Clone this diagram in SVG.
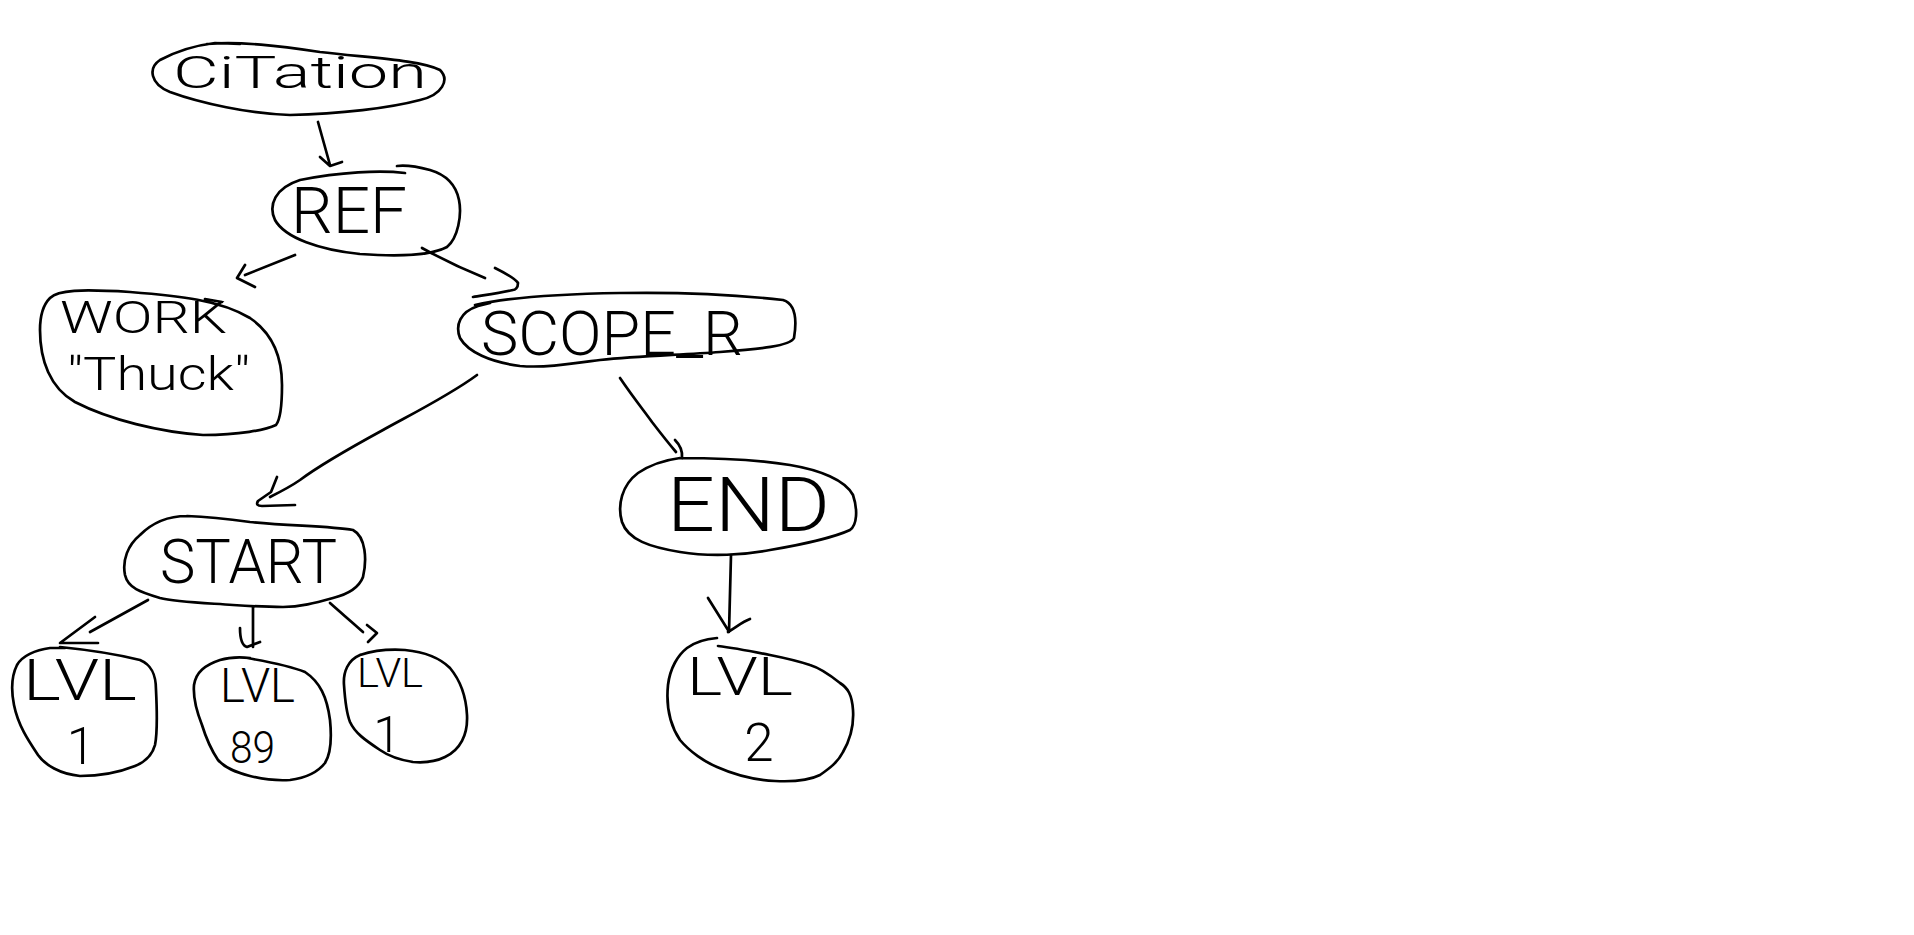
<svg xmlns="http://www.w3.org/2000/svg" width="1914" height="935" viewBox="0 0 1914 935">
<style>
.s{fill:none;stroke:#000;stroke-width:2.7;stroke-linecap:round;stroke-linejoin:round}
.t{font-family:Roboto,"Open Sans","Liberation Sans",sans-serif;font-weight:300;fill:#000}
</style>
<rect x="0" y="0" width="1914" height="935" fill="#fff"/>
<g id="connectors">
<path class="s" d="M318,122 L330,165 M320,157 L330,166 L342,162"/>
<path class="s" d="M295,255 L245,275 M245,265 L237,278 L255,287"/>
<path class="s" d="M422,248 C440,258 465,270 485,278 M495,268 C505,273 515,278 518,283 C518,288 515,290 513,290 C500,293 485,295 473,297"/>
<path class="s" d="M477,375 C450,395 410,415 383,430 C350,448 320,465 300,480 C290,487 280,492 270,497 M277,477 L271,492 L258,501 Q255,506 262,506 L295,505"/>
<path class="s" d="M620,378 C635,400 645,412 652,422 C662,435 670,445 676,452 M675,440 Q683,448 682,458"/>
<path class="s" d="M148,600 L90,632 M95,617 L60,643 L98,643"/>
<path class="s" d="M253,607 L253,647 M240,628 Q240,645 247,647 L260,642"/>
<path class="s" d="M330,603 C340,612 352,622 363,632 M367,625 L377,633 L368,642"/>
<path class="s" d="M731,555 L729,632 M708,598 L728,630 M750,619 C742,622 738,626 728,632"/>
</g>
<g id="citation">
<path class="s" d="M207,44 C240,41 280,46 320,52 C370,58 420,60 440,70 C450,80 442,95 420,100 C390,108 340,114 290,115 C250,114 200,103 170,92 C150,84 148,68 160,60 C175,52 190,46 215,43 L240,44"/>
<text class="t" x="173" y="88" font-size="45" textLength="254" lengthAdjust="spacingAndGlyphs">CiTation</text>
</g>
<g id="ref">
<path class="s" d="M405,173 C380,170 340,172 300,180 C275,188 268,205 275,220 C285,238 320,250 360,254 C400,257 430,256 447,247 C458,238 462,215 459,200 C456,185 447,175 430,170 C415,166 405,165 397,166"/>
<text class="t" x="291" y="233" font-size="64" textLength="116" lengthAdjust="spacingAndGlyphs">REF</text>
</g>
<g id="work">
<path class="s" d="M50,298 C58,290 80,289 130,292 C180,296 220,300 250,318 C272,333 282,355 282,385 C282,405 280,420 276,425 C265,430 240,435 203,435 C160,432 110,420 75,402 C50,388 40,360 40,330 C40,315 43,305 50,298 M205,299 L222,302"/>
<text class="t" x="60" y="333" font-size="44" textLength="167" lengthAdjust="spacingAndGlyphs">WORK</text>
<text class="t" x="67" y="390" font-size="46" textLength="183" lengthAdjust="spacingAndGlyphs">"Thuck"</text>
</g>
<g id="scope_r">
<path class="s" d="M475,305 C510,297 560,294 620,293 C680,292 740,295 783,300 C796,304 797,320 794,338 C790,346 760,349 720,352 C680,355 640,356 600,360 C570,364 545,368 520,366 C490,362 468,352 460,338 C455,325 460,312 478,306 L490,303"/>
<text class="t" x="481" y="355" font-size="62" textLength="262" lengthAdjust="spacingAndGlyphs">SCOPE_R</text>
</g>
<g id="end">
<path class="s" d="M680,458 C720,458 760,460 790,465 C820,470 845,480 853,495 C858,510 857,525 850,530 C835,537 800,545 770,550 C745,555 710,557 680,552 C650,547 628,540 622,522 C617,505 622,485 638,473 C650,465 665,460 680,458"/>
<text class="t" x="667" y="531" font-size="76" textLength="163" lengthAdjust="spacingAndGlyphs">END</text>
</g>
<g id="start">
<path class="s" d="M187,516 C210,517 235,520 250,522 C290,526 330,526 353,530 C366,537 367,560 363,577 C358,590 345,595 333,598 C315,603 300,607 283,607 C265,607 248,606 233,605 C205,603 175,602 160,598 C140,592 128,588 125,575 C122,560 128,545 140,535 C152,523 167,516 187,516"/>
<text class="t" x="160" y="583" font-size="62" textLength="177" lengthAdjust="spacingAndGlyphs">START</text>
</g>
<g id="lvl1a">
<path class="s" d="M60,647 C90,650 120,655 140,660 C152,665 156,675 156,690 C157,710 158,730 155,745 C152,756 145,762 135,766 C120,772 100,776 80,776 C60,774 45,765 38,755 C28,740 18,725 14,705 C11,690 12,675 17,665 C22,656 35,650 50,648 L65,648"/>
<text class="t" x="23" y="700" font-size="57" textLength="114" lengthAdjust="spacingAndGlyphs">LVL</text>
<text class="t" x="81" y="764" font-size="51" text-anchor="middle">1</text>
</g>
<g id="lvl89">
<path class="s" d="M247,658 C270,662 290,666 305,672 C320,682 327,697 330,720 C332,740 330,755 325,763 C318,772 305,778 290,780 C275,781 262,779 250,776 C235,772 225,768 218,760 C210,748 206,738 202,725 C196,710 193,697 194,685 C196,672 205,665 220,660 C230,657 240,657 250,658"/>
<text class="t" x="220" y="702" font-size="48" textLength="75" lengthAdjust="spacingAndGlyphs">LVL</text>
<text class="t" x="230" y="763" font-size="44" textLength="45" lengthAdjust="spacingAndGlyphs">89</text>
</g>
<g id="lvl1b">
<path class="s" d="M360,655 C375,650 390,649 405,650 C425,652 440,658 450,668 C460,680 466,695 467,715 C468,735 460,750 445,757 C435,762 425,763 413,762 C400,760 390,757 380,750 C365,740 355,733 350,722 C346,712 345,700 344,685 C343,672 348,660 360,655"/>
<text class="t" x="357" y="687" font-size="40" textLength="66" lengthAdjust="spacingAndGlyphs">LVL</text>
<text class="t" x="387" y="752" font-size="50" text-anchor="middle">1</text>
</g>
<g id="lvl2">
<path class="s" d="M717,638 C705,639 695,642 687,648 C678,655 670,668 668,685 C666,705 670,725 680,740 C690,752 705,762 717,767 C735,775 755,780 775,781 C795,782 810,780 820,775 C830,768 838,762 843,752 C850,740 854,725 853,710 C852,695 848,688 840,683 C830,675 820,668 810,665 C795,660 780,657 770,655 C750,651 735,648 718,646"/>
<text class="t" x="687" y="695" font-size="54" textLength="106" lengthAdjust="spacingAndGlyphs">LVL</text>
<text class="t" x="759" y="761" font-size="53" text-anchor="middle">2</text>
</g>
</svg>
